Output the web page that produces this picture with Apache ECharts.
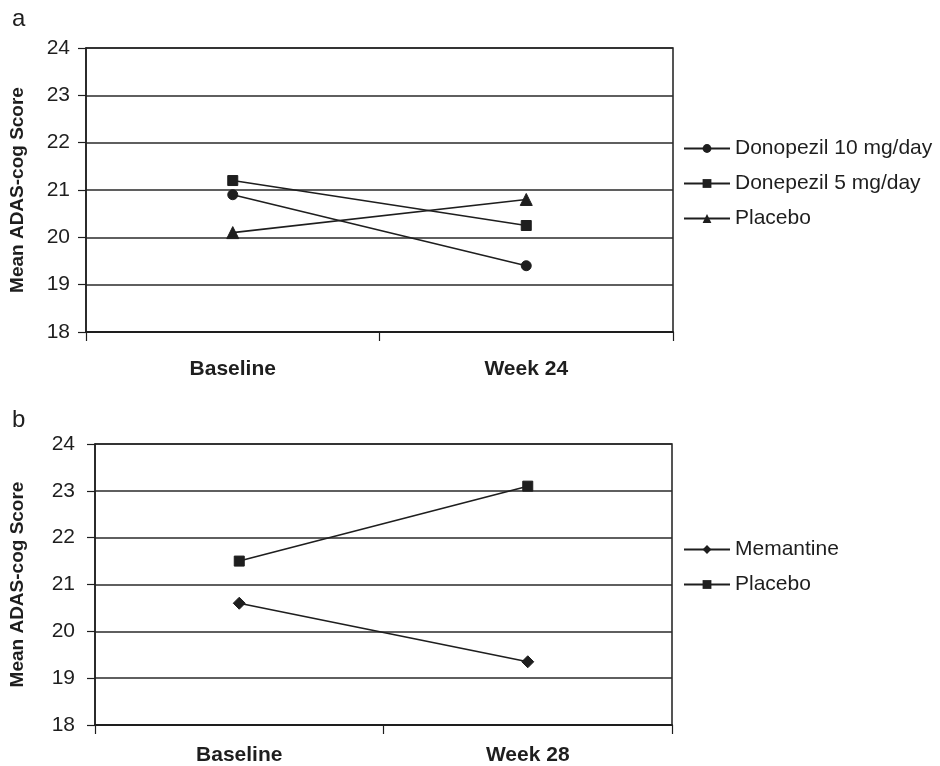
<!DOCTYPE html>
<html>
<head>
<meta charset="utf-8">
<script src="https://cdn.jsdelivr.net/npm/echarts@6/dist/echarts.min.js"></script>
<style>
html,body{margin:0;padding:0;background:#fff;}
#chart{width:940px;height:766px;}
</style>
</head>
<body>
<div id="chart"></div>
<script>
// Panel a
const categoriesA = ['Baseline', 'Week 24'];
const donepezil10 = [20.9, 19.4];
const donepezil5 = [21.2, 20.25];
const placeboA = [20.1, 20.8];
// Panel b
const categoriesB = ['Baseline', 'Week 28'];
const memantine = [20.6, 19.35];
const placeboB = [21.5, 23.1];
// Axis
const yMin = 18, yMax = 24, yStep = 1;

const FONT = '"Liberation Sans", Arial, Helvetica, sans-serif';
const INK = '#1e1e1e';

function yAxis(gridIndex, nameGap, labelMargin) {
  return {
    type: 'value', gridIndex, min: yMin, max: yMax, interval: yStep,
    name: 'Mean ADAS-cog Score', nameLocation: 'middle', nameGap,
    nameTextStyle: { fontFamily: FONT, fontWeight: 'bold', fontSize: 19, color: INK },
    axisLine: { show: true, lineStyle: { color: INK, width: 1.5 } },
    axisTick: { show: true, length: 8, lineStyle: { color: INK, width: 1.2 } },
    axisLabel: { fontFamily: FONT, fontSize: 21, color: INK, margin: labelMargin },
    splitLine: { show: true, lineStyle: { color: '#2a2a2a', width: 1.5 } }
  };
}
function xAxis(gridIndex, data, margin) {
  return {
    type: 'category', gridIndex, data, boundaryGap: true,
    axisLine: { show: true, lineStyle: { color: INK, width: 2 } },
    axisTick: { show: true, length: 9, lineStyle: { color: INK, width: 1.2 } },
    axisLabel: { fontFamily: FONT, fontWeight: 'bold', fontSize: 21, color: INK, margin }
  };
}
function lineSeries(name, data, symbol, size, idx) {
  return {
    type: 'line', name, data, xAxisIndex: idx, yAxisIndex: idx,
    symbol, symbolSize: size, showAllSymbol: true,
    lineStyle: { color: INK, width: 1.6 },
    itemStyle: { color: INK, borderColor: INK },
    emphasis: { disabled: true }, animation: false
  };
}
const legendBase = {
  orient: 'vertical', left: 683, padding: 0, itemWidth: 46, itemHeight: 11, itemGap: 14,
  textStyle: { fontFamily: FONT, fontSize: 21, color: INK, lineHeight: 21 },
  selectedMode: false,
  formatter: n => n.replace(' (b)', '')
};

const chart = echarts.init(document.getElementById('chart'), null, { renderer: 'canvas' });
chart.setOption({
  backgroundColor: '#fff',
  animation: false,
  title: [
    { text: 'a', left: 7, top: 2, textStyle: { fontFamily: FONT, fontWeight: 'normal', fontSize: 24, color: INK } },
    { text: 'b', left: 7, top: 403, textStyle: { fontFamily: FONT, fontWeight: 'normal', fontSize: 24, color: INK } }
  ],
  grid: [
    { left: 83, right: 267, top: 48, height: 284, show: true, borderColor: INK, borderWidth: 1.5, backgroundColor: 'transparent' },
    { left: 92, right: 268, top: 444, height: 281, show: true, borderColor: INK, borderWidth: 1.5, backgroundColor: 'transparent' }
  ],
  xAxis: [xAxis(0, categoriesA, 27), xAxis(1, categoriesB, 20)],
  yAxis: [yAxis(0, 59, 16), yAxis(1, 68, 20)],
  legend: [
    Object.assign({}, legendBase, { top: 138, data: ['Donopezil 10 mg/day', 'Donepezil 5 mg/day', 'Placebo'] }),
    Object.assign({}, legendBase, { top: 539, data: ['Memantine', 'Placebo (b)'] })
  ],
  series: [
    lineSeries('Donopezil 10 mg/day', donepezil10, 'circle', 10, 0),
    lineSeries('Donepezil 5 mg/day', donepezil5, 'rect', 10, 0),
    lineSeries('Placebo', placeboA, 'triangle', 12, 0),
    lineSeries('Memantine', memantine, 'diamond', 12, 1),
    lineSeries('Placebo (b)', placeboB, 'rect', 10, 1)
  ]
});
</script>
</body>
</html>
